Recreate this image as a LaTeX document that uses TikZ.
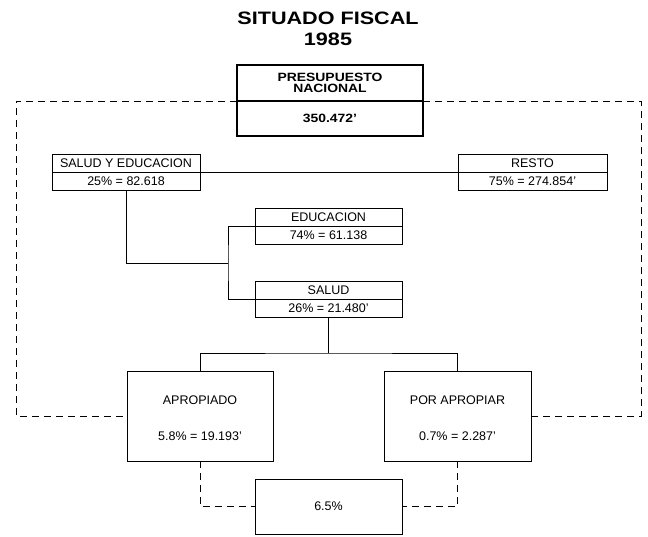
\documentclass[tikz,border=0pt]{standalone}
\usepackage{fontspec}
\usepackage{graphicx}
\setmainfont{Liberation Sans}
\begin{document}
\begin{tikzpicture}[x=1pt,y=-1pt,
  boxsty/.style={draw, line width=0.9pt, inner sep=0pt, outer sep=0pt,
    font=\fontsize{12.5}{14}\selectfont},
  presbox/.style={draw, line width=1.8pt, inner sep=0pt, outer sep=0pt, align=center,
    minimum width=186pt, font=\bfseries\fontsize{12}{11.5}\selectfont},
  lbl/.style={inner sep=0pt, font=\fontsize{12.5}{14}\selectfont},
  conn/.style={line width=0.9pt},
  dashline/.style={line width=0.9pt, dash pattern=on 7pt off 5pt},
  titlesty/.style={inner sep=0pt, font=\bfseries\fontsize{18}{20}\selectfont}
]
\useasboundingbox (0,0) rectangle (648,536);
% title
\node[titlesty] (t1) at (328,18) {\scalebox{1.2}[1]{SITUADO FISCAL}};
\node[titlesty] (t2) at (328,39) {\scalebox{1.2}[1]{1985}};
% presupuesto
\node[presbox, minimum height=36pt] (prestop) at (330,83)
  {\scalebox{1.16}[1]{PRESUPUESTO}\\\scalebox{1.16}[1]{NACIONAL}};
\node[presbox, minimum height=35pt] (presbot) at (330,118.5)
  {\scalebox{1.16}[1]{350.472'}};
% salud y educacion
\node[boxsty, minimum width=148pt, minimum height=18pt] (setop) at (126,163) {SALUD Y EDUCACION};
\node[boxsty, minimum width=148pt, minimum height=18pt] (sebot) at (126,181) {25\% = 82.618};
% resto
\node[boxsty, minimum width=149pt, minimum height=18pt] (restotop) at (532.5,163) {RESTO};
\node[boxsty, minimum width=149pt, minimum height=18pt] (restobot) at (532.5,181) {75\% = 274.854'};
% educacion
\node[boxsty, minimum width=147pt, minimum height=18pt] (edutop) at (328.5,217) {EDUCACION};
\node[boxsty, minimum width=147pt, minimum height=18pt] (edubot) at (328.5,235) {74\% = 61.138};
% salud
\node[boxsty, minimum width=147pt, minimum height=18pt] (saltop) at (328.5,290) {SALUD};
\node[boxsty, minimum width=147pt, minimum height=18pt] (salbot) at (328.5,308) {26\% = 21.480'};
% apropiado / por apropiar
\node[boxsty, minimum width=146pt, minimum height=90pt] (aprop) at (200,416) {};
\node[lbl] (apropl) at (200,400) {APROPIADO};
\node[lbl] (apropv) at (200,436) {5.8\% = 19.193'};
\node[boxsty, minimum width=147pt, minimum height=90pt] (porap) at (457.5,416) {};
\node[lbl] (porapl) at (457.5,400) {POR APROPIAR};
\node[lbl] (porapv) at (457.5,436) {0.7\% = 2.287'};
% 6.5
\node[boxsty, minimum width=147pt, minimum height=55pt] (seis) at (328.5,506.5) {6.5\%};
% connectors
\draw[conn] (setop.south east) -- (restotop.south west);
\coordinate (brk) at (228,263);
\draw[conn] (sebot.south) |- (brk);
\draw[conn] (edutop.south west) -| (brk) |- (saltop.south west);
\coordinate (fork) at (328.5,353);
\draw[conn] (salbot.south) -- (fork);
\draw[conn] (aprop.north) |- (fork) -| (porap.north);
% dashed outer frame
\coordinate (otl) at (16,101);
\coordinate (obl) at (16,416);
\coordinate (otr) at (641,101);
\coordinate (obr) at (641,416);
\draw[dashline] (prestop.south west) -- (otl) -- (obl) -- (aprop.west);
\draw[dashline] (prestop.south east) -- (otr) -- (obr) -- (porap.east);
\draw[dashline] (aprop.south) |- (seis.west);
\draw[dashline] (porap.south) |- (seis.east);
\end{tikzpicture}
\end{document}
